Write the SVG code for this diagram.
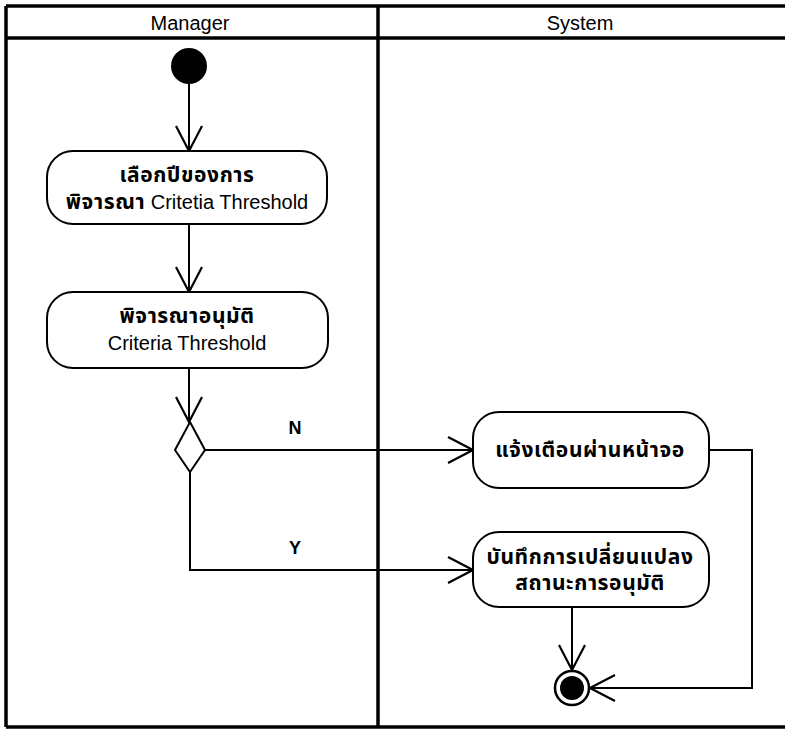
<svg xmlns="http://www.w3.org/2000/svg" width="785" height="730" viewBox="0 0 785 730">
<style>
.lane{stroke:#000;stroke-width:3.5;fill:none}
.hdr{font-family:"Liberation Sans",Arial,sans-serif;font-size:20px;fill:#000;text-anchor:middle}
.act{fill:#fff;stroke:#000;stroke-width:2}
.th{font-family:"Liberation Sans","Noto Sans Thai","Loma","Garuda","Tahoma",sans-serif;font-size:21px;font-weight:bold;letter-spacing:0.6px;fill:#000;text-anchor:middle}
.en{font-family:"Liberation Sans",Arial,sans-serif;font-size:20px;fill:#000;text-anchor:middle}
.lbl{font-family:"Liberation Sans",Arial,sans-serif;font-size:18px;font-weight:bold;fill:#000;text-anchor:middle}
.flow{stroke:#000;stroke-width:2;fill:none;marker-end:url(#open)}
</style>
<defs>
<marker id="open" markerUnits="userSpaceOnUse" viewBox="-27 -15 29 30" markerWidth="29" markerHeight="30" refX="0" refY="0" orient="auto">
<path d="M-25,-13 L0,0 L-25,13" fill="none" stroke="#000" stroke-width="2.2"/>
</marker>
</defs>
<rect width="785" height="730" fill="#fff"/>
<g id="swimlanes">
<line class="lane" x1="6" y1="6" x2="785" y2="6"/>
<line class="lane" x1="6" y1="38" x2="785" y2="38"/>
<line class="lane" x1="6" y1="6" x2="6" y2="727"/>
<line class="lane" x1="378" y1="6" x2="378" y2="727"/>
<line class="lane" x1="6" y1="727" x2="785" y2="727"/>
<text class="hdr" x="190" y="30">Manager</text>
<text class="hdr" x="580" y="30">System</text>
</g>
<g id="connectors">
<line class="flow" x1="189" y1="84" x2="189" y2="151"/>
<line class="flow" x1="189" y1="224" x2="189" y2="292"/>
<line class="flow" x1="189" y1="368" x2="189" y2="422"/>
<path class="flow" d="M205,450 H473"/>
<path class="flow" d="M190,472 V570 H473"/>
<path class="flow" d="M709,450 H752 V688 H590"/>
<line class="flow" x1="572" y1="607" x2="572" y2="670"/>
<text class="lbl" x="295" y="434">N</text>
<text class="lbl" x="295" y="554">Y</text>
</g>
<g id="start">
<circle cx="189" cy="66" r="18" fill="#000"/>
</g>
<g id="act1">
<rect class="act" x="47" y="151" width="280" height="73" rx="26"/>
<text class="th" x="187" y="182">เลือกปีของการ</text>
<text class="en" x="187" y="209"><tspan font-weight="bold" font-family="'Liberation Sans','Noto Sans Thai','Loma','Garuda',sans-serif" font-size="21" letter-spacing="0.6">พิจารณา</tspan> Critetia Threshold</text>
</g>
<g id="act2">
<rect class="act" x="47" y="292" width="281" height="76" rx="26"/>
<text class="th" x="187" y="323">พิจารณาอนุมัติ</text>
<text class="en" x="187" y="350">Criteria Threshold</text>
</g>
<g id="decision">
<polygon points="190,422 205,450 190,472 175,450" fill="#fff" stroke="#000" stroke-width="2"/>
</g>
<g id="act3">
<rect class="act" x="473" y="412" width="236" height="76" rx="26"/>
<text class="th" x="590" y="457">แจ้งเตือนผ่านหน้าจอ</text>
</g>
<g id="act4">
<rect class="act" x="473" y="532" width="236" height="75" rx="26"/>
<text class="th" x="590" y="564">บันทึกการเปลี่ยนแปลง</text>
<text class="th" x="590" y="590">สถานะการอนุมัติ</text>
</g>
<g id="end">
<circle cx="572" cy="688" r="17" fill="#fff" stroke="#000" stroke-width="2.5"/>
<circle cx="572" cy="688" r="12" fill="#000"/>
</g>
</svg>
